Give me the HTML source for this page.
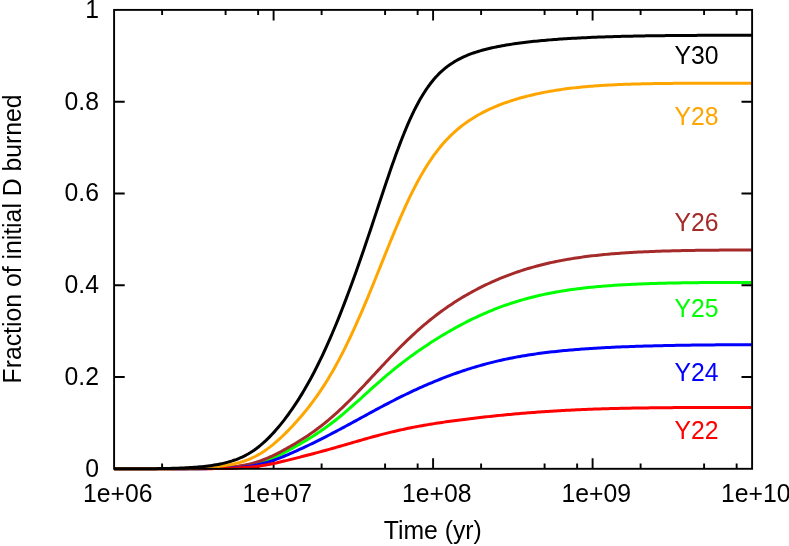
<!DOCTYPE html>
<html><head><meta charset="utf-8"><title>Fraction of initial D burned</title>
<style>
html,body{margin:0;padding:0;background:#fff;}
body{width:789px;height:546px;overflow:hidden;position:relative;font-family:"Liberation Sans",sans-serif;}
</style></head><body>
<svg width="789" height="546" viewBox="0 0 789 546" style="position:absolute;left:0;top:0;will-change:transform">
<rect width="789" height="546" fill="#fff"/>
<path fill="none" stroke="#000" stroke-width="1.9" d="M162.11,468.8v-5.2M162.11,9.9v5.2M225.59,468.8v-5.2M225.59,9.9v5.2M258.14,468.8v-5.2M258.14,9.9v5.2M273.60,468.8v-10.6M273.60,9.9v10.6M321.61,468.8v-5.2M321.61,9.9v5.2M385.09,468.8v-5.2M385.09,9.9v5.2M417.64,468.8v-5.2M417.64,9.9v5.2M433.10,468.8v-10.6M433.10,9.9v10.6M481.11,468.8v-5.2M481.11,9.9v5.2M544.59,468.8v-5.2M544.59,9.9v5.2M577.14,468.8v-5.2M577.14,9.9v5.2M592.60,468.8v-10.6M592.60,9.9v10.6M640.61,468.8v-5.2M640.61,9.9v5.2M704.09,468.8v-5.2M704.09,9.9v5.2M736.64,468.8v-5.2M736.64,9.9v5.2M114.1,377.02h10.6M752.1,377.02h-10.6M114.1,285.24h10.6M752.1,285.24h-10.6M114.1,193.46h10.6M752.1,193.46h-10.6M114.1,101.68h10.6M752.1,101.68h-10.6"/>
<g fill="none" stroke-width="3.0" stroke-linejoin="round">
<path stroke="#00ff00" d="M114.1,468.80 L116.1,468.80 L118.1,468.80 L120.1,468.80 L122.1,468.80 L124.1,468.80 L126.1,468.80 L128.1,468.80 L130.1,468.80 L132.1,468.80 L134.1,468.80 L136.1,468.80 L138.1,468.80 L140.1,468.80 L142.1,468.80 L144.1,468.80 L146.1,468.80 L148.1,468.80 L150.1,468.80 L152.1,468.80 L154.1,468.79 L156.1,468.79 L158.1,468.79 L160.1,468.79 L162.1,468.79 L164.1,468.79 L166.1,468.78 L168.1,468.78 L170.1,468.78 L172.1,468.78 L174.1,468.77 L176.1,468.77 L178.1,468.76 L180.1,468.76 L182.1,468.75 L184.1,468.74 L186.1,468.73 L188.1,468.72 L190.1,468.71 L192.1,468.70 L194.1,468.69 L196.1,468.67 L198.1,468.65 L200.1,468.63 L202.1,468.61 L204.1,468.59 L206.1,468.56 L208.1,468.53 L210.1,468.49 L212.1,468.45 L214.1,468.41 L216.1,468.36 L218.1,468.30 L220.1,468.24 L222.1,468.17 L224.1,468.08 L226.1,467.99 L228.1,467.89 L230.1,467.78 L232.1,467.65 L234.1,467.50 L236.1,467.33 L238.1,467.15 L240.1,466.94 L242.1,466.71 L244.1,466.44 L246.1,466.15 L248.1,465.82 L250.1,465.46 L252.1,465.05 L254.1,464.61 L256.1,464.12 L258.1,463.59 L260.1,463.00 L262.1,462.38 L264.1,461.70 L266.1,460.98 L268.1,460.21 L270.1,459.40 L272.1,458.54 L274.1,457.65 L276.1,456.72 L278.1,455.76 L280.1,454.77 L282.1,453.76 L284.1,452.72 L286.1,451.67 L288.1,450.59 L290.1,449.51 L292.1,448.41 L294.1,447.29 L296.1,446.17 L298.1,445.03 L300.1,443.88 L302.1,442.72 L304.1,441.54 L306.1,440.35 L308.1,439.14 L310.1,437.92 L312.1,436.68 L314.1,435.41 L316.1,434.12 L318.1,432.81 L320.1,431.46 L322.1,430.10 L324.1,428.70 L326.1,427.27 L328.1,425.81 L330.1,424.33 L332.1,422.81 L334.1,421.27 L336.1,419.70 L338.1,418.10 L340.1,416.47 L342.1,414.82 L344.1,413.14 L346.1,411.44 L348.1,409.72 L350.1,407.98 L352.1,406.22 L354.1,404.44 L356.1,402.65 L358.1,400.86 L360.1,399.05 L362.1,397.24 L364.1,395.42 L366.1,393.61 L368.1,391.79 L370.1,389.98 L372.1,388.18 L374.1,386.39 L376.1,384.61 L378.1,382.84 L380.1,381.08 L382.1,379.34 L384.1,377.61 L386.1,375.90 L388.1,374.21 L390.1,372.54 L392.1,370.88 L394.1,369.25 L396.1,367.63 L398.1,366.04 L400.1,364.46 L402.1,362.91 L404.1,361.37 L406.1,359.85 L408.1,358.35 L410.1,356.88 L412.1,355.42 L414.1,353.97 L416.1,352.55 L418.1,351.14 L420.1,349.76 L422.1,348.39 L424.1,347.03 L426.1,345.70 L428.1,344.38 L430.1,343.07 L432.1,341.78 L434.1,340.51 L436.1,339.25 L438.1,338.01 L440.1,336.78 L442.1,335.57 L444.1,334.37 L446.1,333.19 L448.1,332.02 L450.1,330.87 L452.1,329.73 L454.1,328.60 L456.1,327.49 L458.1,326.40 L460.1,325.32 L462.1,324.26 L464.1,323.22 L466.1,322.19 L468.1,321.17 L470.1,320.17 L472.1,319.19 L474.1,318.23 L476.1,317.28 L478.1,316.35 L480.1,315.43 L482.1,314.53 L484.1,313.65 L486.1,312.78 L488.1,311.93 L490.1,311.09 L492.1,310.28 L494.1,309.48 L496.1,308.69 L498.1,307.92 L500.1,307.17 L502.1,306.43 L504.1,305.71 L506.1,305.00 L508.1,304.31 L510.1,303.64 L512.1,302.98 L514.1,302.34 L516.1,301.71 L518.1,301.10 L520.1,300.50 L522.1,299.91 L524.1,299.34 L526.1,298.79 L528.1,298.25 L530.1,297.72 L532.1,297.21 L534.1,296.71 L536.1,296.22 L538.1,295.75 L540.1,295.29 L542.1,294.85 L544.1,294.41 L546.1,293.99 L548.1,293.58 L550.1,293.18 L552.1,292.80 L554.1,292.42 L556.1,292.06 L558.1,291.71 L560.1,291.36 L562.1,291.03 L564.1,290.71 L566.1,290.40 L568.1,290.10 L570.1,289.81 L572.1,289.53 L574.1,289.25 L576.1,288.99 L578.1,288.73 L580.1,288.48 L582.1,288.24 L584.1,288.01 L586.1,287.79 L588.1,287.57 L590.1,287.36 L592.1,287.16 L594.1,286.97 L596.1,286.78 L598.1,286.60 L600.1,286.42 L602.1,286.25 L604.1,286.09 L606.1,285.93 L608.1,285.78 L610.1,285.63 L612.1,285.49 L614.1,285.35 L616.1,285.22 L618.1,285.10 L620.1,284.97 L622.1,284.86 L624.1,284.74 L626.1,284.63 L628.1,284.53 L630.1,284.43 L632.1,284.33 L634.1,284.24 L636.1,284.15 L638.1,284.06 L640.1,283.98 L642.1,283.90 L644.1,283.82 L646.1,283.75 L648.1,283.68 L650.1,283.61 L652.1,283.55 L654.1,283.48 L656.1,283.42 L658.1,283.37 L660.1,283.31 L662.1,283.26 L664.1,283.21 L666.1,283.16 L668.1,283.11 L670.1,283.07 L672.1,283.03 L674.1,282.99 L676.1,282.95 L678.1,282.91 L680.1,282.88 L682.1,282.85 L684.1,282.81 L686.1,282.78 L688.1,282.76 L690.1,282.73 L692.1,282.70 L694.1,282.68 L696.1,282.66 L698.1,282.64 L700.1,282.62 L702.1,282.60 L704.1,282.58 L706.1,282.56 L708.1,282.55 L710.1,282.53 L712.1,282.52 L714.1,282.51 L716.1,282.50 L718.1,282.49 L720.1,282.48 L722.1,282.47 L724.1,282.46 L726.1,282.45 L728.1,282.44 L730.1,282.44 L732.1,282.43 L734.1,282.43 L736.1,282.42 L738.1,282.42 L740.1,282.42 L742.1,282.41 L744.1,282.41 L746.1,282.41 L748.1,282.41 L750.1,282.41 L752.1,282.40"/>
<path stroke="#a52a2a" d="M114.1,468.80 L116.1,468.80 L118.1,468.80 L120.1,468.80 L122.1,468.80 L124.1,468.80 L126.1,468.80 L128.1,468.80 L130.1,468.80 L132.1,468.80 L134.1,468.80 L136.1,468.80 L138.1,468.80 L140.1,468.80 L142.1,468.79 L144.1,468.79 L146.1,468.79 L148.1,468.79 L150.1,468.79 L152.1,468.79 L154.1,468.78 L156.1,468.78 L158.1,468.78 L160.1,468.77 L162.1,468.77 L164.1,468.76 L166.1,468.76 L168.1,468.75 L170.1,468.74 L172.1,468.73 L174.1,468.72 L176.1,468.71 L178.1,468.70 L180.1,468.69 L182.1,468.67 L184.1,468.65 L186.1,468.64 L188.1,468.61 L190.1,468.59 L192.1,468.57 L194.1,468.54 L196.1,468.51 L198.1,468.47 L200.1,468.43 L202.1,468.39 L204.1,468.34 L206.1,468.29 L208.1,468.23 L210.1,468.17 L212.1,468.10 L214.1,468.02 L216.1,467.94 L218.1,467.84 L220.1,467.74 L222.1,467.62 L224.1,467.49 L226.1,467.35 L228.1,467.20 L230.1,467.02 L232.1,466.83 L234.1,466.62 L236.1,466.38 L238.1,466.12 L240.1,465.83 L242.1,465.52 L244.1,465.17 L246.1,464.79 L248.1,464.37 L250.1,463.91 L252.1,463.41 L254.1,462.87 L256.1,462.29 L258.1,461.66 L260.1,460.99 L262.1,460.27 L264.1,459.51 L266.1,458.71 L268.1,457.87 L270.1,456.98 L272.1,456.06 L274.1,455.11 L276.1,454.12 L278.1,453.10 L280.1,452.06 L282.1,451.00 L284.1,449.91 L286.1,448.81 L288.1,447.68 L290.1,446.54 L292.1,445.38 L294.1,444.20 L296.1,443.01 L298.1,441.79 L300.1,440.55 L302.1,439.30 L304.1,438.02 L306.1,436.71 L308.1,435.38 L310.1,434.03 L312.1,432.64 L314.1,431.23 L316.1,429.78 L318.1,428.30 L320.1,426.79 L322.1,425.24 L324.1,423.66 L326.1,422.04 L328.1,420.38 L330.1,418.69 L332.1,416.96 L334.1,415.19 L336.1,413.40 L338.1,411.57 L340.1,409.71 L342.1,407.81 L344.1,405.89 L346.1,403.94 L348.1,401.97 L350.1,399.97 L352.1,397.94 L354.1,395.90 L356.1,393.83 L358.1,391.75 L360.1,389.65 L362.1,387.53 L364.1,385.41 L366.1,383.27 L368.1,381.13 L370.1,378.98 L372.1,376.82 L374.1,374.67 L376.1,372.51 L378.1,370.36 L380.1,368.21 L382.1,366.06 L384.1,363.93 L386.1,361.80 L388.1,359.68 L390.1,357.58 L392.1,355.49 L394.1,353.42 L396.1,351.36 L398.1,349.32 L400.1,347.30 L402.1,345.31 L404.1,343.33 L406.1,341.38 L408.1,339.45 L410.1,337.55 L412.1,335.67 L414.1,333.82 L416.1,331.99 L418.1,330.20 L420.1,328.43 L422.1,326.68 L424.1,324.97 L426.1,323.28 L428.1,321.62 L430.1,319.99 L432.1,318.39 L434.1,316.82 L436.1,315.27 L438.1,313.76 L440.1,312.27 L442.1,310.80 L444.1,309.37 L446.1,307.96 L448.1,306.58 L450.1,305.22 L452.1,303.89 L454.1,302.58 L456.1,301.30 L458.1,300.04 L460.1,298.81 L462.1,297.59 L464.1,296.40 L466.1,295.24 L468.1,294.09 L470.1,292.97 L472.1,291.87 L474.1,290.78 L476.1,289.72 L478.1,288.68 L480.1,287.66 L482.1,286.66 L484.1,285.67 L486.1,284.71 L488.1,283.76 L490.1,282.84 L492.1,281.93 L494.1,281.04 L496.1,280.17 L498.1,279.32 L500.1,278.48 L502.1,277.66 L504.1,276.86 L506.1,276.08 L508.1,275.31 L510.1,274.57 L512.1,273.83 L514.1,273.12 L516.1,272.42 L518.1,271.73 L520.1,271.06 L522.1,270.41 L524.1,269.78 L526.1,269.15 L528.1,268.55 L530.1,267.96 L532.1,267.38 L534.1,266.82 L536.1,266.27 L538.1,265.74 L540.1,265.22 L542.1,264.71 L544.1,264.22 L546.1,263.74 L548.1,263.27 L550.1,262.82 L552.1,262.38 L554.1,261.95 L556.1,261.54 L558.1,261.13 L560.1,260.74 L562.1,260.36 L564.1,259.99 L566.1,259.63 L568.1,259.28 L570.1,258.94 L572.1,258.62 L574.1,258.30 L576.1,257.99 L578.1,257.69 L580.1,257.40 L582.1,257.12 L584.1,256.85 L586.1,256.59 L588.1,256.33 L590.1,256.09 L592.1,255.85 L594.1,255.62 L596.1,255.39 L598.1,255.18 L600.1,254.97 L602.1,254.77 L604.1,254.57 L606.1,254.38 L608.1,254.20 L610.1,254.03 L612.1,253.86 L614.1,253.69 L616.1,253.53 L618.1,253.38 L620.1,253.23 L622.1,253.09 L624.1,252.95 L626.1,252.82 L628.1,252.69 L630.1,252.57 L632.1,252.45 L634.1,252.34 L636.1,252.23 L638.1,252.12 L640.1,252.02 L642.1,251.92 L644.1,251.83 L646.1,251.74 L648.1,251.65 L650.1,251.56 L652.1,251.48 L654.1,251.41 L656.1,251.33 L658.1,251.26 L660.1,251.19 L662.1,251.12 L664.1,251.06 L666.1,251.00 L668.1,250.94 L670.1,250.89 L672.1,250.83 L674.1,250.78 L676.1,250.74 L678.1,250.69 L680.1,250.64 L682.1,250.60 L684.1,250.56 L686.1,250.53 L688.1,250.49 L690.1,250.45 L692.1,250.42 L694.1,250.39 L696.1,250.36 L698.1,250.33 L700.1,250.31 L702.1,250.28 L704.1,250.26 L706.1,250.24 L708.1,250.22 L710.1,250.20 L712.1,250.18 L714.1,250.17 L716.1,250.15 L718.1,250.14 L720.1,250.12 L722.1,250.11 L724.1,250.10 L726.1,250.09 L728.1,250.08 L730.1,250.07 L732.1,250.06 L734.1,250.06 L736.1,250.05 L738.1,250.04 L740.1,250.04 L742.1,250.04 L744.1,250.03 L746.1,250.03 L748.1,250.03 L750.1,250.02 L752.1,250.02"/>
<path stroke="#0000ff" d="M114.1,468.80 L116.1,468.80 L118.1,468.80 L120.1,468.80 L122.1,468.80 L124.1,468.80 L126.1,468.80 L128.1,468.80 L130.1,468.80 L132.1,468.80 L134.1,468.80 L136.1,468.80 L138.1,468.80 L140.1,468.80 L142.1,468.80 L144.1,468.80 L146.1,468.80 L148.1,468.80 L150.1,468.80 L152.1,468.80 L154.1,468.80 L156.1,468.80 L158.1,468.80 L160.1,468.79 L162.1,468.79 L164.1,468.79 L166.1,468.79 L168.1,468.79 L170.1,468.79 L172.1,468.79 L174.1,468.78 L176.1,468.78 L178.1,468.78 L180.1,468.77 L182.1,468.77 L184.1,468.76 L186.1,468.76 L188.1,468.75 L190.1,468.74 L192.1,468.73 L194.1,468.72 L196.1,468.71 L198.1,468.70 L200.1,468.69 L202.1,468.67 L204.1,468.65 L206.1,468.63 L208.1,468.61 L210.1,468.58 L212.1,468.55 L214.1,468.52 L216.1,468.48 L218.1,468.44 L220.1,468.39 L222.1,468.34 L224.1,468.27 L226.1,468.20 L228.1,468.12 L230.1,468.03 L232.1,467.93 L234.1,467.82 L236.1,467.69 L238.1,467.54 L240.1,467.38 L242.1,467.19 L244.1,466.99 L246.1,466.76 L248.1,466.50 L250.1,466.21 L252.1,465.89 L254.1,465.54 L256.1,465.16 L258.1,464.74 L260.1,464.28 L262.1,463.79 L264.1,463.26 L266.1,462.70 L268.1,462.10 L270.1,461.47 L272.1,460.80 L274.1,460.10 L276.1,459.38 L278.1,458.63 L280.1,457.85 L282.1,457.06 L284.1,456.24 L286.1,455.41 L288.1,454.57 L290.1,453.71 L292.1,452.83 L294.1,451.95 L296.1,451.05 L298.1,450.15 L300.1,449.23 L302.1,448.31 L304.1,447.37 L306.1,446.43 L308.1,445.48 L310.1,444.52 L312.1,443.55 L314.1,442.58 L316.1,441.60 L318.1,440.61 L320.1,439.61 L322.1,438.60 L324.1,437.58 L326.1,436.56 L328.1,435.53 L330.1,434.50 L332.1,433.45 L334.1,432.41 L336.1,431.35 L338.1,430.29 L340.1,429.22 L342.1,428.15 L344.1,427.08 L346.1,426.00 L348.1,424.92 L350.1,423.84 L352.1,422.75 L354.1,421.66 L356.1,420.57 L358.1,419.48 L360.1,418.39 L362.1,417.29 L364.1,416.20 L366.1,415.11 L368.1,414.02 L370.1,412.94 L372.1,411.85 L374.1,410.77 L376.1,409.69 L378.1,408.62 L380.1,407.55 L382.1,406.49 L384.1,405.43 L386.1,404.37 L388.1,403.33 L390.1,402.29 L392.1,401.25 L394.1,400.23 L396.1,399.21 L398.1,398.20 L400.1,397.20 L402.1,396.21 L404.1,395.22 L406.1,394.25 L408.1,393.29 L410.1,392.33 L412.1,391.39 L414.1,390.45 L416.1,389.53 L418.1,388.62 L420.1,387.71 L422.1,386.82 L424.1,385.94 L426.1,385.07 L428.1,384.20 L430.1,383.35 L432.1,382.51 L434.1,381.68 L436.1,380.86 L438.1,380.05 L440.1,379.25 L442.1,378.46 L444.1,377.68 L446.1,376.91 L448.1,376.16 L450.1,375.41 L452.1,374.67 L454.1,373.95 L456.1,373.23 L458.1,372.53 L460.1,371.84 L462.1,371.16 L464.1,370.49 L466.1,369.84 L468.1,369.19 L470.1,368.56 L472.1,367.94 L474.1,367.33 L476.1,366.73 L478.1,366.14 L480.1,365.57 L482.1,365.00 L484.1,364.45 L486.1,363.91 L488.1,363.38 L490.1,362.87 L492.1,362.36 L494.1,361.87 L496.1,361.38 L498.1,360.91 L500.1,360.45 L502.1,360.00 L504.1,359.56 L506.1,359.14 L508.1,358.72 L510.1,358.31 L512.1,357.92 L514.1,357.53 L516.1,357.15 L518.1,356.79 L520.1,356.43 L522.1,356.08 L524.1,355.74 L526.1,355.41 L528.1,355.09 L530.1,354.78 L532.1,354.48 L534.1,354.18 L536.1,353.89 L538.1,353.61 L540.1,353.34 L542.1,353.08 L544.1,352.82 L546.1,352.57 L548.1,352.33 L550.1,352.09 L552.1,351.86 L554.1,351.64 L556.1,351.42 L558.1,351.21 L560.1,351.00 L562.1,350.80 L564.1,350.61 L566.1,350.42 L568.1,350.24 L570.1,350.06 L572.1,349.89 L574.1,349.72 L576.1,349.56 L578.1,349.40 L580.1,349.25 L582.1,349.10 L584.1,348.95 L586.1,348.81 L588.1,348.67 L590.1,348.54 L592.1,348.41 L594.1,348.29 L596.1,348.16 L598.1,348.05 L600.1,347.93 L602.1,347.82 L604.1,347.71 L606.1,347.61 L608.1,347.50 L610.1,347.41 L612.1,347.31 L614.1,347.22 L616.1,347.12 L618.1,347.04 L620.1,346.95 L622.1,346.87 L624.1,346.79 L626.1,346.71 L628.1,346.63 L630.1,346.56 L632.1,346.49 L634.1,346.42 L636.1,346.35 L638.1,346.29 L640.1,346.22 L642.1,346.16 L644.1,346.10 L646.1,346.04 L648.1,345.99 L650.1,345.93 L652.1,345.88 L654.1,345.83 L656.1,345.78 L658.1,345.73 L660.1,345.68 L662.1,345.64 L664.1,345.59 L666.1,345.55 L668.1,345.51 L670.1,345.47 L672.1,345.43 L674.1,345.40 L676.1,345.36 L678.1,345.33 L680.1,345.29 L682.1,345.26 L684.1,345.23 L686.1,345.20 L688.1,345.17 L690.1,345.14 L692.1,345.11 L694.1,345.09 L696.1,345.06 L698.1,345.04 L700.1,345.02 L702.1,344.99 L704.1,344.97 L706.1,344.95 L708.1,344.93 L710.1,344.92 L712.1,344.90 L714.1,344.88 L716.1,344.87 L718.1,344.85 L720.1,344.84 L722.1,344.82 L724.1,344.81 L726.1,344.80 L728.1,344.79 L730.1,344.77 L732.1,344.76 L734.1,344.76 L736.1,344.75 L738.1,344.74 L740.1,344.73 L742.1,344.73 L744.1,344.72 L746.1,344.71 L748.1,344.71 L750.1,344.70 L752.1,344.70"/>
<path stroke="#ff0000" d="M114.1,468.80 L116.1,468.80 L118.1,468.80 L120.1,468.80 L122.1,468.80 L124.1,468.80 L126.1,468.80 L128.1,468.80 L130.1,468.80 L132.1,468.80 L134.1,468.80 L136.1,468.80 L138.1,468.80 L140.1,468.80 L142.1,468.80 L144.1,468.80 L146.1,468.80 L148.1,468.80 L150.1,468.80 L152.1,468.80 L154.1,468.80 L156.1,468.80 L158.1,468.80 L160.1,468.80 L162.1,468.80 L164.1,468.80 L166.1,468.79 L168.1,468.79 L170.1,468.79 L172.1,468.79 L174.1,468.79 L176.1,468.79 L178.1,468.78 L180.1,468.78 L182.1,468.78 L184.1,468.78 L186.1,468.77 L188.1,468.77 L190.1,468.76 L192.1,468.76 L194.1,468.75 L196.1,468.74 L198.1,468.73 L200.1,468.73 L202.1,468.71 L204.1,468.70 L206.1,468.69 L208.1,468.67 L210.1,468.66 L212.1,468.64 L214.1,468.61 L216.1,468.59 L218.1,468.56 L220.1,468.53 L222.1,468.49 L224.1,468.45 L226.1,468.41 L228.1,468.35 L230.1,468.29 L232.1,468.23 L234.1,468.15 L236.1,468.07 L238.1,467.97 L240.1,467.87 L242.1,467.75 L244.1,467.61 L246.1,467.46 L248.1,467.30 L250.1,467.11 L252.1,466.91 L254.1,466.69 L256.1,466.45 L258.1,466.19 L260.1,465.91 L262.1,465.60 L264.1,465.28 L266.1,464.93 L268.1,464.57 L270.1,464.18 L272.1,463.78 L274.1,463.36 L276.1,462.93 L278.1,462.48 L280.1,462.03 L282.1,461.56 L284.1,461.08 L286.1,460.60 L288.1,460.11 L290.1,459.61 L292.1,459.11 L294.1,458.61 L296.1,458.10 L298.1,457.59 L300.1,457.08 L302.1,456.57 L304.1,456.05 L306.1,455.54 L308.1,455.02 L310.1,454.49 L312.1,453.97 L314.1,453.44 L316.1,452.91 L318.1,452.37 L320.1,451.83 L322.1,451.29 L324.1,450.74 L326.1,450.19 L328.1,449.63 L330.1,449.07 L332.1,448.51 L334.1,447.94 L336.1,447.38 L338.1,446.80 L340.1,446.23 L342.1,445.66 L344.1,445.08 L346.1,444.50 L348.1,443.92 L350.1,443.34 L352.1,442.76 L354.1,442.18 L356.1,441.60 L358.1,441.03 L360.1,440.45 L362.1,439.88 L364.1,439.31 L366.1,438.74 L368.1,438.18 L370.1,437.62 L372.1,437.07 L374.1,436.52 L376.1,435.98 L378.1,435.45 L380.1,434.92 L382.1,434.40 L384.1,433.88 L386.1,433.38 L388.1,432.88 L390.1,432.38 L392.1,431.90 L394.1,431.42 L396.1,430.96 L398.1,430.50 L400.1,430.05 L402.1,429.61 L404.1,429.17 L406.1,428.75 L408.1,428.33 L410.1,427.93 L412.1,427.53 L414.1,427.14 L416.1,426.75 L418.1,426.38 L420.1,426.01 L422.1,425.65 L424.1,425.30 L426.1,424.95 L428.1,424.62 L430.1,424.28 L432.1,423.96 L434.1,423.64 L436.1,423.32 L438.1,423.02 L440.1,422.71 L442.1,422.42 L444.1,422.12 L446.1,421.84 L448.1,421.55 L450.1,421.27 L452.1,421.00 L454.1,420.73 L456.1,420.46 L458.1,420.20 L460.1,419.94 L462.1,419.68 L464.1,419.43 L466.1,419.18 L468.1,418.94 L470.1,418.69 L472.1,418.45 L474.1,418.22 L476.1,417.98 L478.1,417.75 L480.1,417.52 L482.1,417.29 L484.1,417.07 L486.1,416.85 L488.1,416.63 L490.1,416.42 L492.1,416.20 L494.1,415.99 L496.1,415.79 L498.1,415.58 L500.1,415.38 L502.1,415.18 L504.1,414.98 L506.1,414.79 L508.1,414.60 L510.1,414.41 L512.1,414.23 L514.1,414.04 L516.1,413.86 L518.1,413.69 L520.1,413.51 L522.1,413.34 L524.1,413.18 L526.1,413.01 L528.1,412.85 L530.1,412.69 L532.1,412.53 L534.1,412.38 L536.1,412.23 L538.1,412.08 L540.1,411.94 L542.1,411.80 L544.1,411.66 L546.1,411.52 L548.1,411.39 L550.1,411.26 L552.1,411.13 L554.1,411.01 L556.1,410.89 L558.1,410.77 L560.1,410.66 L562.1,410.55 L564.1,410.44 L566.1,410.33 L568.1,410.23 L570.1,410.13 L572.1,410.03 L574.1,409.93 L576.1,409.84 L578.1,409.75 L580.1,409.66 L582.1,409.57 L584.1,409.49 L586.1,409.41 L588.1,409.33 L590.1,409.26 L592.1,409.18 L594.1,409.11 L596.1,409.04 L598.1,408.98 L600.1,408.91 L602.1,408.85 L604.1,408.79 L606.1,408.73 L608.1,408.67 L610.1,408.62 L612.1,408.56 L614.1,408.51 L616.1,408.46 L618.1,408.41 L620.1,408.37 L622.1,408.32 L624.1,408.28 L626.1,408.24 L628.1,408.20 L630.1,408.16 L632.1,408.12 L634.1,408.09 L636.1,408.06 L638.1,408.02 L640.1,407.99 L642.1,407.96 L644.1,407.93 L646.1,407.90 L648.1,407.88 L650.1,407.85 L652.1,407.83 L654.1,407.80 L656.1,407.78 L658.1,407.76 L660.1,407.74 L662.1,407.72 L664.1,407.70 L666.1,407.68 L668.1,407.67 L670.1,407.65 L672.1,407.64 L674.1,407.62 L676.1,407.61 L678.1,407.59 L680.1,407.58 L682.1,407.57 L684.1,407.56 L686.1,407.55 L688.1,407.54 L690.1,407.53 L692.1,407.52 L694.1,407.51 L696.1,407.51 L698.1,407.50 L700.1,407.49 L702.1,407.49 L704.1,407.48 L706.1,407.47 L708.1,407.47 L710.1,407.47 L712.1,407.46 L714.1,407.46 L716.1,407.45 L718.1,407.45 L720.1,407.45 L722.1,407.45 L724.1,407.44 L726.1,407.44 L728.1,407.44 L730.1,407.44 L732.1,407.44 L734.1,407.43 L736.1,407.43 L738.1,407.43 L740.1,407.43 L742.1,407.43 L744.1,407.43 L746.1,407.43 L748.1,407.43 L750.1,407.43 L752.1,407.43"/>
<path stroke="#ffa500" d="M114.1,468.80 L116.1,468.80 L118.1,468.80 L120.1,468.80 L122.1,468.80 L124.1,468.80 L126.1,468.80 L128.1,468.80 L130.1,468.80 L132.1,468.80 L134.1,468.79 L136.1,468.79 L138.1,468.79 L140.1,468.79 L142.1,468.78 L144.1,468.78 L146.1,468.78 L148.1,468.77 L150.1,468.77 L152.1,468.76 L154.1,468.75 L156.1,468.74 L158.1,468.73 L160.1,468.72 L162.1,468.71 L164.1,468.69 L166.1,468.68 L168.1,468.66 L170.1,468.63 L172.1,468.61 L174.1,468.58 L176.1,468.55 L178.1,468.52 L180.1,468.48 L182.1,468.44 L184.1,468.40 L186.1,468.35 L188.1,468.30 L190.1,468.24 L192.1,468.17 L194.1,468.10 L196.1,468.02 L198.1,467.93 L200.1,467.84 L202.1,467.73 L204.1,467.62 L206.1,467.49 L208.1,467.36 L210.1,467.21 L212.1,467.05 L214.1,466.87 L216.1,466.67 L218.1,466.46 L220.1,466.23 L222.1,465.97 L224.1,465.70 L226.1,465.39 L228.1,465.06 L230.1,464.70 L232.1,464.31 L234.1,463.88 L236.1,463.42 L238.1,462.91 L240.1,462.36 L242.1,461.76 L244.1,461.11 L246.1,460.40 L248.1,459.64 L250.1,458.82 L252.1,457.94 L254.1,456.99 L256.1,455.97 L258.1,454.89 L260.1,453.73 L262.1,452.50 L264.1,451.21 L266.1,449.84 L268.1,448.40 L270.1,446.88 L272.1,445.31 L274.1,443.66 L276.1,441.96 L278.1,440.20 L280.1,438.38 L282.1,436.51 L284.1,434.59 L286.1,432.62 L288.1,430.60 L290.1,428.54 L292.1,426.44 L294.1,424.28 L296.1,422.08 L298.1,419.84 L300.1,417.54 L302.1,415.20 L304.1,412.80 L306.1,410.36 L308.1,407.85 L310.1,405.28 L312.1,402.65 L314.1,399.96 L316.1,397.19 L318.1,394.34 L320.1,391.43 L322.1,388.43 L324.1,385.35 L326.1,382.18 L328.1,378.93 L330.1,375.60 L332.1,372.17 L334.1,368.66 L336.1,365.07 L338.1,361.38 L340.1,357.61 L342.1,353.76 L344.1,349.81 L346.1,345.79 L348.1,341.68 L350.1,337.49 L352.1,333.22 L354.1,328.88 L356.1,324.46 L358.1,319.97 L360.1,315.42 L362.1,310.79 L364.1,306.11 L366.1,301.37 L368.1,296.58 L370.1,291.75 L372.1,286.87 L374.1,281.96 L376.1,277.02 L378.1,272.06 L380.1,267.08 L382.1,262.10 L384.1,257.12 L386.1,252.16 L388.1,247.21 L390.1,242.28 L392.1,237.40 L394.1,232.56 L396.1,227.77 L398.1,223.05 L400.1,218.39 L402.1,213.82 L404.1,209.33 L406.1,204.94 L408.1,200.64 L410.1,196.45 L412.1,192.36 L414.1,188.38 L416.1,184.52 L418.1,180.77 L420.1,177.13 L422.1,173.62 L424.1,170.22 L426.1,166.94 L428.1,163.78 L430.1,160.73 L432.1,157.81 L434.1,154.99 L436.1,152.28 L438.1,149.68 L440.1,147.19 L442.1,144.80 L444.1,142.51 L446.1,140.31 L448.1,138.20 L450.1,136.18 L452.1,134.24 L454.1,132.39 L456.1,130.60 L458.1,128.90 L460.1,127.26 L462.1,125.68 L464.1,124.17 L466.1,122.71 L468.1,121.31 L470.1,119.97 L472.1,118.67 L474.1,117.43 L476.1,116.23 L478.1,115.07 L480.1,113.95 L482.1,112.88 L484.1,111.84 L486.1,110.84 L488.1,109.87 L490.1,108.94 L492.1,108.04 L494.1,107.16 L496.1,106.32 L498.1,105.50 L500.1,104.71 L502.1,103.95 L504.1,103.21 L506.1,102.49 L508.1,101.80 L510.1,101.12 L512.1,100.47 L514.1,99.84 L516.1,99.22 L518.1,98.63 L520.1,98.05 L522.1,97.49 L524.1,96.95 L526.1,96.43 L528.1,95.92 L530.1,95.43 L532.1,94.95 L534.1,94.49 L536.1,94.04 L538.1,93.61 L540.1,93.19 L542.1,92.78 L544.1,92.39 L546.1,92.01 L548.1,91.64 L550.1,91.28 L552.1,90.94 L554.1,90.61 L556.1,90.29 L558.1,89.98 L560.1,89.68 L562.1,89.39 L564.1,89.11 L566.1,88.85 L568.1,88.59 L570.1,88.34 L572.1,88.10 L574.1,87.87 L576.1,87.65 L578.1,87.43 L580.1,87.23 L582.1,87.03 L584.1,86.84 L586.1,86.66 L588.1,86.48 L590.1,86.32 L592.1,86.15 L594.1,86.00 L596.1,85.85 L598.1,85.71 L600.1,85.58 L602.1,85.45 L604.1,85.32 L606.1,85.21 L608.1,85.09 L610.1,84.99 L612.1,84.88 L614.1,84.79 L616.1,84.69 L618.1,84.61 L620.1,84.52 L622.1,84.44 L624.1,84.37 L626.1,84.29 L628.1,84.22 L630.1,84.16 L632.1,84.10 L634.1,84.04 L636.1,83.98 L638.1,83.93 L640.1,83.88 L642.1,83.83 L644.1,83.79 L646.1,83.75 L648.1,83.71 L650.1,83.67 L652.1,83.64 L654.1,83.60 L656.1,83.57 L658.1,83.54 L660.1,83.51 L662.1,83.49 L664.1,83.46 L666.1,83.44 L668.1,83.42 L670.1,83.40 L672.1,83.38 L674.1,83.37 L676.1,83.35 L678.1,83.34 L680.1,83.32 L682.1,83.31 L684.1,83.30 L686.1,83.29 L688.1,83.28 L690.1,83.27 L692.1,83.26 L694.1,83.25 L696.1,83.25 L698.1,83.24 L700.1,83.23 L702.1,83.23 L704.1,83.23 L706.1,83.22 L708.1,83.22 L710.1,83.21 L712.1,83.21 L714.1,83.21 L716.1,83.21 L718.1,83.20 L720.1,83.20 L722.1,83.20 L724.1,83.20 L726.1,83.20 L728.1,83.20 L730.1,83.20 L732.1,83.20 L734.1,83.20 L736.1,83.20 L738.1,83.20 L740.1,83.19 L742.1,83.19 L744.1,83.19 L746.1,83.19 L748.1,83.19 L750.1,83.19 L752.1,83.19"/>
<path stroke="#000000" d="M114.1,468.80 L116.1,468.80 L118.1,468.80 L120.1,468.80 L122.1,468.80 L124.1,468.80 L126.1,468.79 L128.1,468.79 L130.1,468.79 L132.1,468.78 L134.1,468.78 L136.1,468.78 L138.1,468.77 L140.1,468.76 L142.1,468.75 L144.1,468.74 L146.1,468.73 L148.1,468.72 L150.1,468.71 L152.1,468.69 L154.1,468.67 L156.1,468.65 L158.1,468.62 L160.1,468.59 L162.1,468.56 L164.1,468.53 L166.1,468.49 L168.1,468.45 L170.1,468.40 L172.1,468.35 L174.1,468.29 L176.1,468.22 L178.1,468.15 L180.1,468.08 L182.1,467.99 L184.1,467.90 L186.1,467.80 L188.1,467.70 L190.1,467.58 L192.1,467.45 L194.1,467.31 L196.1,467.16 L198.1,467.00 L200.1,466.82 L202.1,466.63 L204.1,466.42 L206.1,466.20 L208.1,465.95 L210.1,465.69 L212.1,465.41 L214.1,465.10 L216.1,464.77 L218.1,464.41 L220.1,464.02 L222.1,463.60 L224.1,463.15 L226.1,462.66 L228.1,462.13 L230.1,461.56 L232.1,460.94 L234.1,460.27 L236.1,459.56 L238.1,458.78 L240.1,457.95 L242.1,457.05 L244.1,456.09 L246.1,455.06 L248.1,453.95 L250.1,452.77 L252.1,451.51 L254.1,450.16 L256.1,448.74 L258.1,447.23 L260.1,445.64 L262.1,443.96 L264.1,442.19 L266.1,440.34 L268.1,438.41 L270.1,436.39 L272.1,434.29 L274.1,432.12 L276.1,429.86 L278.1,427.53 L280.1,425.12 L282.1,422.64 L284.1,420.08 L286.1,417.45 L288.1,414.75 L290.1,411.97 L292.1,409.12 L294.1,406.18 L296.1,403.17 L298.1,400.08 L300.1,396.90 L302.1,393.63 L304.1,390.28 L306.1,386.84 L308.1,383.31 L310.1,379.69 L312.1,375.98 L314.1,372.18 L316.1,368.28 L318.1,364.29 L320.1,360.21 L322.1,356.03 L324.1,351.76 L326.1,347.40 L328.1,342.94 L330.1,338.40 L332.1,333.76 L334.1,329.03 L336.1,324.22 L338.1,319.32 L340.1,314.33 L342.1,309.26 L344.1,304.11 L346.1,298.88 L348.1,293.58 L350.1,288.20 L352.1,282.75 L354.1,277.23 L356.1,271.64 L358.1,265.99 L360.1,260.27 L362.1,254.50 L364.1,248.67 L366.1,242.79 L368.1,236.87 L370.1,230.91 L372.1,224.91 L374.1,218.89 L376.1,212.86 L378.1,206.82 L380.1,200.78 L382.1,194.76 L384.1,188.77 L386.1,182.81 L388.1,176.91 L390.1,171.07 L392.1,165.32 L394.1,159.65 L396.1,154.10 L398.1,148.66 L400.1,143.36 L402.1,138.20 L404.1,133.19 L406.1,128.35 L408.1,123.67 L410.1,119.17 L412.1,114.84 L414.1,110.69 L416.1,106.73 L418.1,102.95 L420.1,99.35 L422.1,95.94 L424.1,92.70 L426.1,89.64 L428.1,86.75 L430.1,84.02 L432.1,81.46 L434.1,79.05 L436.1,76.79 L438.1,74.67 L440.1,72.69 L442.1,70.83 L444.1,69.09 L446.1,67.46 L448.1,65.93 L450.1,64.50 L452.1,63.17 L454.1,61.91 L456.1,60.73 L458.1,59.63 L460.1,58.58 L462.1,57.60 L464.1,56.68 L466.1,55.81 L468.1,54.98 L470.1,54.20 L472.1,53.46 L474.1,52.76 L476.1,52.10 L478.1,51.47 L480.1,50.87 L482.1,50.30 L484.1,49.75 L486.1,49.23 L488.1,48.73 L490.1,48.26 L492.1,47.81 L494.1,47.37 L496.1,46.95 L498.1,46.55 L500.1,46.17 L502.1,45.80 L504.1,45.44 L506.1,45.10 L508.1,44.77 L510.1,44.45 L512.1,44.14 L514.1,43.84 L516.1,43.56 L518.1,43.28 L520.1,43.01 L522.1,42.75 L524.1,42.50 L526.1,42.26 L528.1,42.03 L530.1,41.80 L532.1,41.58 L534.1,41.36 L536.1,41.16 L538.1,40.96 L540.1,40.76 L542.1,40.58 L544.1,40.39 L546.1,40.22 L548.1,40.05 L550.1,39.88 L552.1,39.72 L554.1,39.56 L556.1,39.41 L558.1,39.26 L560.1,39.12 L562.1,38.98 L564.1,38.85 L566.1,38.72 L568.1,38.60 L570.1,38.47 L572.1,38.36 L574.1,38.24 L576.1,38.13 L578.1,38.02 L580.1,37.92 L582.1,37.82 L584.1,37.72 L586.1,37.63 L588.1,37.53 L590.1,37.45 L592.1,37.36 L594.1,37.28 L596.1,37.20 L598.1,37.12 L600.1,37.04 L602.1,36.97 L604.1,36.90 L606.1,36.83 L608.1,36.77 L610.1,36.70 L612.1,36.64 L614.1,36.58 L616.1,36.52 L618.1,36.47 L620.1,36.42 L622.1,36.36 L624.1,36.31 L626.1,36.27 L628.1,36.22 L630.1,36.18 L632.1,36.13 L634.1,36.09 L636.1,36.05 L638.1,36.01 L640.1,35.98 L642.1,35.94 L644.1,35.91 L646.1,35.87 L648.1,35.84 L650.1,35.81 L652.1,35.78 L654.1,35.75 L656.1,35.73 L658.1,35.70 L660.1,35.68 L662.1,35.65 L664.1,35.63 L666.1,35.61 L668.1,35.59 L670.1,35.57 L672.1,35.55 L674.1,35.53 L676.1,35.51 L678.1,35.49 L680.1,35.48 L682.1,35.46 L684.1,35.45 L686.1,35.44 L688.1,35.42 L690.1,35.41 L692.1,35.40 L694.1,35.39 L696.1,35.38 L698.1,35.37 L700.1,35.36 L702.1,35.35 L704.1,35.34 L706.1,35.34 L708.1,35.33 L710.1,35.32 L712.1,35.32 L714.1,35.31 L716.1,35.31 L718.1,35.30 L720.1,35.30 L722.1,35.29 L724.1,35.29 L726.1,35.29 L728.1,35.28 L730.1,35.28 L732.1,35.28 L734.1,35.28 L736.1,35.27 L738.1,35.27 L740.1,35.27 L742.1,35.27 L744.1,35.27 L746.1,35.27 L748.1,35.27 L750.1,35.27 L752.1,35.27"/>
</g>
<rect x="114.1" y="9.9" width="638.0" height="458.90000000000003" fill="none" stroke="#000" stroke-width="1.9"/>
<g font-family="Liberation Sans, sans-serif" font-size="25.15px" fill="#000">
<text transform="translate(99 476.80) scale(0.985 1)" text-anchor="end">0</text>
<text transform="translate(99 385.02) scale(0.985 1)" text-anchor="end">0.2</text>
<text transform="translate(99 293.24) scale(0.985 1)" text-anchor="end">0.4</text>
<text transform="translate(99 201.46) scale(0.985 1)" text-anchor="end">0.6</text>
<text transform="translate(99 109.68) scale(0.985 1)" text-anchor="end">0.8</text>
<text transform="translate(99 17.90) scale(0.985 1)" text-anchor="end">1</text>
<text transform="translate(117.70 502.1) scale(0.985 1)" text-anchor="middle">1e+06</text>
<text transform="translate(277.20 502.1) scale(0.985 1)" text-anchor="middle">1e+07</text>
<text transform="translate(436.70 502.1) scale(0.985 1)" text-anchor="middle">1e+08</text>
<text transform="translate(596.20 502.1) scale(0.985 1)" text-anchor="middle">1e+09</text>
<text transform="translate(755.70 502.1) scale(0.985 1)" text-anchor="middle">1e+10</text>
<text transform="translate(432.8 538.7) scale(0.985 1)" text-anchor="middle">Time (yr)</text>
<text transform="translate(20.7 238.9) rotate(-90) scale(0.985 1)" text-anchor="middle">Fraction of initial D burned</text>
<text transform="translate(674.4 63.80) scale(0.985 1)" fill="#000000">Y30</text>
<text transform="translate(674.4 125.10) scale(0.985 1)" fill="#ffa500">Y28</text>
<text transform="translate(674.4 231.15) scale(0.985 1)" fill="#a52a2a">Y26</text>
<text transform="translate(674.4 316.50) scale(0.985 1)" fill="#00ff00">Y25</text>
<text transform="translate(674.4 380.70) scale(0.985 1)" fill="#0000ff">Y24</text>
<text transform="translate(674.4 438.90) scale(0.985 1)" fill="#ff0000">Y22</text>
</g></svg>
</body></html>
